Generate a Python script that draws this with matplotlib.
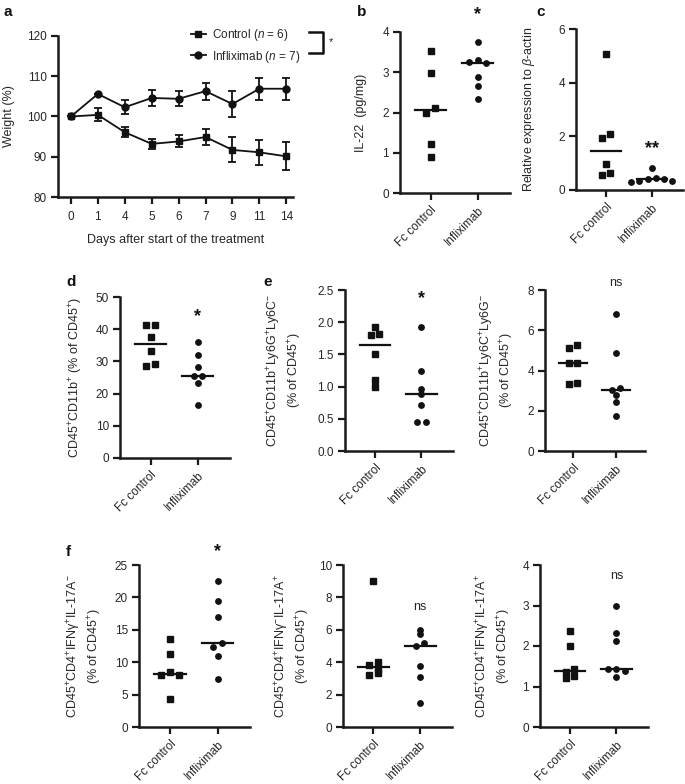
import matplotlib
matplotlib.use("Agg")
import matplotlib.pyplot as plt
from matplotlib.lines import Line2D
import numpy as np

plt.rcParams['font.family'] = ['Liberation Sans', 'DejaVu Sans']
plt.rcParams['mathtext.fontset'] = 'custom'
plt.rcParams['mathtext.rm'] = 'Liberation Sans'
plt.rcParams['mathtext.it'] = 'Liberation Sans:italic'
plt.rcParams['font.size'] = 8
TXT = '#262626'

# ---- data ----
days = ['0', '1', '4', '5', '6', '7', '9', '11', '14']
ctrl_mean = [100, 100.4, 96.1, 93.2, 93.8, 94.9, 91.7, 91.1, 90.1]
ctrl_err = [0, 1.6, 1.2, 1.2, 1.5, 2.1, 3.1, 3.1, 3.5]
ifx_mean = [100, 105.6, 102.3, 104.6, 104.4, 106.3, 103.1, 106.9, 106.9]
ifx_err = [0, 0, 1.7, 2.1, 1.9, 2.1, 3.3, 2.7, 2.7]

groups = ['Fc control', 'Infliximab']
il22_fc = [3.53, 2.99, 2.10, 2.00, 1.21, 0.90]
il22_ifx = [3.74, 3.31, 3.25, 3.22, 2.89, 2.66, 2.33]
rel_fc = [5.08, 2.08, 1.93, 0.97, 0.62, 0.55]
rel_ifx = [0.81, 0.45, 0.42, 0.40, 0.35, 0.33, 0.30]
cd11b_fc = [41.2, 41.2, 37.6, 33.2, 29.1, 28.6]
cd11b_ifx = [35.9, 32.0, 28.4, 25.6, 25.6, 23.2, 16.5]
ly6g_fc = [1.92, 1.81, 1.80, 1.50, 1.11, 0.99]
ly6g_ifx = [1.92, 1.25, 0.97, 0.89, 0.72, 0.45, 0.45]
ly6c_fc = [5.27, 5.10, 4.39, 4.35, 3.36, 3.33]
ly6c_ifx = [6.80, 4.88, 3.11, 3.03, 2.78, 2.45, 1.74]
th1_fc = [13.55, 11.3, 8.5, 8.0, 8.0, 4.3]
th1_ifx = [22.5, 19.5, 17.0, 13.0, 12.4, 11.0, 7.4]
th17_fc = [9.03, 4.00, 3.83, 3.60, 3.33, 3.20]
th17_ifx = [5.98, 5.71, 5.20, 5.00, 3.77, 3.09, 1.50]
dp_fc = [2.38, 2.00, 1.43, 1.35, 1.25, 1.22]
dp_ifx = [2.98, 2.33, 2.13, 1.43, 1.42, 1.38, 1.24]

W, H = 685, 784
fig = plt.figure(figsize=(W / 100, H / 100), dpi=100)


def px_axes(l, t, r, b):
    return fig.add_axes([l / W, 1 - b / H, (r - l) / W, (b - t) / H])


def style(ax):
    for s in ['top', 'right']:
        ax.spines[s].set_visible(False)
    for s in ['left', 'bottom']:
        ax.spines[s].set_linewidth(1.8)
        ax.spines[s].set_color('#1a1a1a')
    ax.tick_params(width=1.6, length=5, colors='#1a1a1a', labelcolor=TXT,
                   labelsize=8.5, pad=3)


def swarm(vals, tol, step=0.18):
    # greedy column scatter, then centre each cluster of touching points
    order = np.argsort(vals)[::-1]
    v = np.asarray(vals, dtype=float)[order]
    offs = np.zeros(len(v))
    cands = [0, -step, step, -2 * step, 2 * step, -3 * step, 3 * step]
    for i in range(len(v)):
        for c in cands:
            if all(abs(v[i] - v[j]) >= tol or abs(c - offs[j]) >= step * 0.9
                   for j in range(i)):
                offs[i] = c
                break
    i = 0
    while i < len(v):
        j = i
        while j + 1 < len(v) and v[j] - v[j + 1] < tol:
            j += 1
        seg = offs[i:j + 1]
        offs[i:j + 1] = seg - (seg.min() + seg.max()) / 2
        i = j + 1
    return v, offs


def scatter_panel(ax, fc, ifx, ylim, yticks, ylabel, mark=None, mark_y=None,
                  fmt=None, lpad=6):
    style(ax)
    tol = 0.026 * (ylim[1] - ylim[0])
    for i, (vals, m) in enumerate([(fc, 's'), (ifx, 'o')]):
        v, o = swarm(vals, tol)
        ax.plot(i + o, v, m, color='#111111', ms=3.9, ls='none', clip_on=False,
                zorder=3)
        ax.plot([i - 0.33, i + 0.33], [np.median(vals)] * 2, color='#111111',
                lw=1.6, zorder=2)
    ax.set_xlim(-0.65, 1.68)
    ax.set_ylim(*ylim)
    ax.set_yticks(yticks)
    if fmt:
        ax.set_yticklabels([fmt % t for t in yticks])
    ax.set_xticks([0, 1])
    ax.set_xticklabels(groups, rotation=45, ha='right', rotation_mode='anchor')
    ax.set_ylabel(ylabel, color=TXT, fontsize=9, labelpad=lpad)
    if mark == 'ns':
        ax.text(1, mark_y, 'ns', ha='center', va='center', fontsize=9,
                color=TXT)
    elif mark:
        ax.text(1, mark_y, mark, ha='center', va='center', fontsize=13,
                color='#111111', fontweight='bold')


# ---- panel a ----
ax = px_axes(58, 36, 293, 197)
style(ax)
x = np.arange(len(days))
ax.errorbar(x, ctrl_mean, yerr=ctrl_err, fmt='-s', color='#111111', ms=5,
            lw=1.3, capsize=2.6, elinewidth=1.3, capthick=1.3,
            clip_on=False, zorder=3)
ax.errorbar(x, ifx_mean, yerr=ifx_err, fmt='-o', color='#111111', ms=5,
            lw=1.3, capsize=2.6, elinewidth=1.3, capthick=1.3,
            clip_on=False, zorder=3)
ax.set_xlim(-0.48, 8.25)
ax.set_ylim(80, 120)
ax.set_yticks([80, 90, 100, 110, 120])
ax.set_xticks(x)
ax.set_xticklabels(days)
ax.tick_params(axis='x', pad=5)
ax.set_ylabel('Weight (%)', color=TXT, fontsize=9, labelpad=9)
ax.set_xlabel('Days after start of the treatment', color=TXT, fontsize=9,
              labelpad=8)
handles = [Line2D([], [], color='#111111', marker='s', ms=5, lw=1.3),
           Line2D([], [], color='#111111', marker='o', ms=5, lw=1.3)]
leg = ax.legend(handles, ['Control ($n$ = 6)', 'Infliximab ($n$ = 7)'],
                loc='upper left', bbox_to_anchor=(0.52, 1.12), frameon=False,
                handlelength=1.3, handletextpad=0.5, labelspacing=0.45,
                fontsize=8.5)
for t in leg.get_texts():
    t.set_color(TXT)
ax.plot([8.85, 9.35, 9.35, 8.85], [121.0, 121.0, 115.9, 115.9],
        color='#111111', lw=1.8, clip_on=False)
ax.text(9.65, 118.4, '*', fontsize=8, ha='center', va='center', color=TXT)

# ---- panel b ----
ax = px_axes(400, 32, 510, 193)
scatter_panel(ax, il22_fc, il22_ifx, (0, 4), [0, 1, 2, 3, 4],
              'IL-22  (pg/mg)', '*', 4.43, lpad=11)

# ---- panel c ----
ax = px_axes(576, 29, 683, 190)
scatter_panel(ax, rel_fc, rel_ifx, (0, 6), [0, 2, 4, 6],
              r'Relative expression to $\beta$-actin', '**', 1.55, lpad=15)

# ---- panel d ----
ax = px_axes(120, 297, 230, 458)
scatter_panel(ax, cd11b_fc, cd11b_ifx, (0, 50), [0, 10, 20, 30, 40, 50],
              r'CD45$^{+}$CD11b$^{+}$ (% of CD45$^{+}$)', '*', 43.8, lpad=8)

# ---- panel e ----
ax = px_axes(345, 290, 453, 451)
scatter_panel(ax, ly6g_fc, ly6g_ifx, (0, 2.5), [0, 0.5, 1.0, 1.5, 2.0, 2.5],
              'CD45$^{+}$CD11b$^{+}$Ly6G$^{+}$Ly6C$^{-}$\n(% of CD45$^{+}$)',
              '*', 2.37, fmt='%.1f', lpad=10)
ax = px_axes(545, 290, 645, 451)
scatter_panel(ax, ly6c_fc, ly6c_ifx, (0, 8), [0, 2, 4, 6, 8],
              'CD45$^{+}$CD11b$^{+}$Ly6C$^{+}$Ly6G$^{-}$\n(% of CD45$^{+}$)',
              'ns', 8.35, lpad=8)

# ---- panel f ----
ax = px_axes(139, 565, 250, 727)
scatter_panel(ax, th1_fc, th1_ifx, (0, 25), [0, 5, 10, 15, 20, 25],
              'CD45$^{+}$CD4$^{+}$IFN\u03b3$^{+}$IL-17A$^{-}$\n(% of CD45$^{+}$)',
              '*', 27.0, lpad=8)
ax = px_axes(343, 565, 452, 727)
scatter_panel(ax, th17_fc, th17_ifx, (0, 10), [0, 2, 4, 6, 8, 10],
              'CD45$^{+}$CD4$^{+}$IFN\u03b3$^{-}$IL-17A$^{+}$\n(% of CD45$^{+}$)',
              'ns', 7.4, lpad=5)
ax = px_axes(540, 565, 648, 727)
scatter_panel(ax, dp_fc, dp_ifx, (0, 4), [0, 1, 2, 3, 4],
              'CD45$^{+}$CD4$^{+}$IFN\u03b3$^{+}$IL-17A$^{+}$\n(% of CD45$^{+}$)',
              'ns', 3.72, lpad=7)

for lab, px, py in [('a', 4, 12), ('b', 357, 12), ('c', 536, 12),
                    ('d', 66, 282), ('e', 263, 282), ('f', 66, 552)]:
    fig.text(px / W, 1 - py / H, lab, fontsize=11, fontweight='bold',
             ha='left', va='center', color='#111111')

fig.savefig('out.png', dpi=100)
